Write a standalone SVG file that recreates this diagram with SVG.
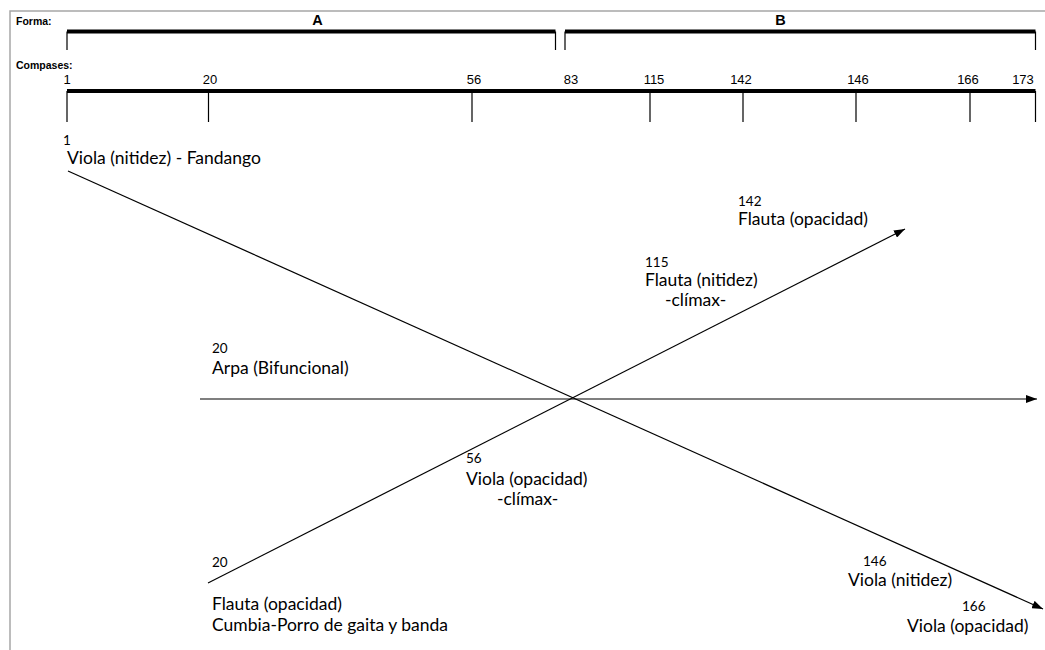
<svg xmlns="http://www.w3.org/2000/svg" width="1045" height="650" viewBox="0 0 1045 650">
<defs>
<marker id="arr" markerWidth="11" markerHeight="8" refX="11" refY="4" orient="auto" markerUnits="userSpaceOnUse"><path d="M0,0 L11,4 L0,8 z" fill="#000"/></marker>
<style>
.frame{fill:none;stroke:#a6a6a6;stroke-width:1.5}
.thick{fill:none;stroke:#000;stroke-width:4}
.tick{fill:none;stroke:#000;stroke-width:1.2}
.hdr{font-family:"Liberation Sans",Arial,sans-serif;font-weight:bold;font-size:10.5px}
.sec{font-family:"Liberation Sans",Arial,sans-serif;font-weight:bold;font-size:14.5px;text-anchor:middle}
.num{font-family:"Liberation Sans",Arial,sans-serif;font-size:13px;text-anchor:middle}
.lbl{font-family:Lato,"Liberation Sans",sans-serif;font-size:17.5px}
.sm{font-family:Lato,"Liberation Sans",sans-serif;font-size:13.5px}
.conn{fill:none;stroke:#000;stroke-width:1.2}
</style>
</defs>
<rect width="1045" height="650" fill="#fff"/>
<path class="frame" d="M10,650 V11 H1045"/>
<g id="forma">
<text class="hdr" x="16" y="25">Forma:</text>
<g id="section-A">
<text class="sec" x="317.5" y="25">A</text>
<line class="thick" x1="67" y1="31.5" x2="555.5" y2="31.5"/>
<path class="tick" d="M67,31.5 V50 M555.5,31.5 V50"/>
</g>
<g id="section-B">
<text class="sec" x="780.5" y="25">B</text>
<line class="thick" x1="565" y1="31.5" x2="1035.5" y2="31.5"/>
<path class="tick" d="M565,31.5 V50 M1035.5,31.5 V50"/>
</g>
</g>
<g id="compases">
<text class="hdr" x="16" y="69">Compases:</text>
<line class="thick" x1="67" y1="91" x2="1035.5" y2="91"/>
<path class="tick" d="M67,91 V122 M208.5,91 V122 M472,91 V122 M650,91 V122 M743,91 V122 M856,91 V122 M970,91 V122 M1035.5,91 V122"/>
<text class="num" x="67" y="84">1</text>
<text class="num" x="210" y="84">20</text>
<text class="num" x="474" y="84">56</text>
<text class="num" x="571" y="84">83</text>
<text class="num" x="654" y="84">115</text>
<text class="num" x="741" y="84">142</text>
<text class="num" x="858" y="84">146</text>
<text class="num" x="968" y="84">166</text>
<text class="num" x="1023" y="84">173</text>
</g>
<g id="connectors">
<line class="conn" x1="68" y1="171" x2="1043" y2="609" marker-end="url(#arr)"/>
<line class="conn" x1="200" y1="399" x2="1037" y2="399" marker-end="url(#arr)"/>
<line class="conn" x1="208" y1="583" x2="905" y2="229" marker-end="url(#arr)"/>
</g>
<g id="viola-1">
<text class="sm" x="63" y="145">1</text>
<text class="lbl" x="67" y="164">Viola (nitidez) - Fandango</text>
</g>
<g id="flauta-142">
<text class="sm" x="738" y="206">142</text>
<text class="lbl" x="738" y="225">Flauta (opacidad)</text>
</g>
<g id="flauta-115">
<text class="sm" x="645" y="267">115</text>
<text class="lbl" x="645" y="286">Flauta (nitidez)</text>
<text class="lbl" x="665" y="306">-clímax-</text>
</g>
<g id="arpa-20">
<text class="sm" x="212" y="353">20</text>
<text class="lbl" x="212" y="374">Arpa (Bifuncional)</text>
</g>
<g id="viola-56">
<text class="sm" x="466" y="463">56</text>
<text class="lbl" x="466" y="485">Viola (opacidad)</text>
<text class="lbl" x="497" y="505">-clímax-</text>
</g>
<g id="flauta-20">
<text class="sm" x="212" y="567">20</text>
<text class="lbl" x="212" y="610">Flauta (opacidad)</text>
<text class="lbl" x="212" y="631">Cumbia-Porro de gaita y banda</text>
</g>
<g id="viola-146">
<text class="sm" x="863" y="566">146</text>
<text class="lbl" x="848" y="586">Viola (nitidez)</text>
</g>
<g id="viola-166">
<text class="sm" x="962" y="611">166</text>
<text class="lbl" x="907" y="632">Viola (opacidad)</text>
</g>
</svg>
